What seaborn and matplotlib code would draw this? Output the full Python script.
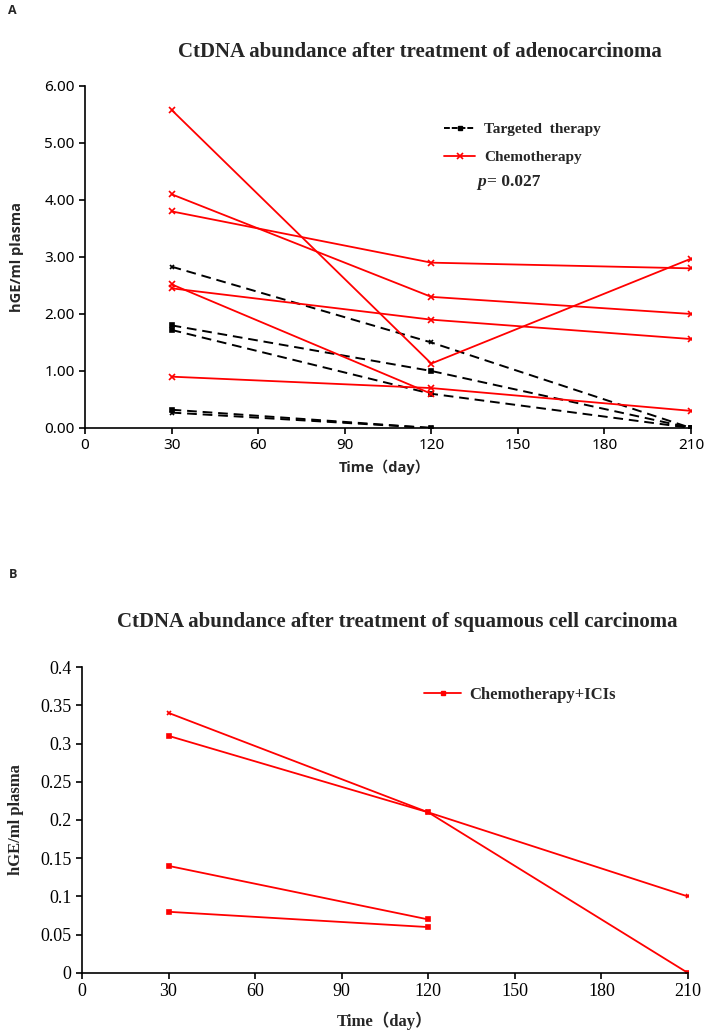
import matplotlib
matplotlib.use("Agg")
import matplotlib.pyplot as plt
from matplotlib.lines import Line2D
import seaborn as sns
import pandas as pd

sns.set_style("ticks")
plt.rcParams['font.family'] = ['DejaVu Sans']

# --- data ---
days = [30, 120, 210]

# A: adenocarcinoma (hGE/ml plasma), None = no sample
targeted = [
    [2.83, 1.50, 0.00],
    [1.80, 1.00, 0.00],
    [1.72, 0.60, 0.00],
    [0.32, 0.00, None],
    [0.27, 0.00, None],
]
targeted_markers = ['x', 's', 's', 's', 'x']

chemo = [
    [5.58, 1.13, 2.97],
    [4.10, 2.30, 2.00],
    [3.80, 2.90, 2.80],
    [2.52, 0.60, None],
    [2.45, 1.90, 1.56],
    [0.90, 0.70, 0.30],
]

# B: squamous cell carcinoma
chemo_ici = [
    [0.34, 0.21, 0.10],
    [0.31, 0.21, 0.00],
    [0.14, 0.07, None],
    [0.08, 0.06, None],
]
chemo_ici_markers = ['x', 's', 's', 's']

x_ticks = [0, 30, 60, 90, 120, 150, 180, 210]
yA_ticks = [0, 1, 2, 3, 4, 5, 6]
yB_ticks = [0, 0.05, 0.1, 0.15, 0.2, 0.25, 0.3, 0.35, 0.4]


def to_long(series):
    rows = []
    for i, vals in enumerate(series):
        for d, v in zip(days, vals):
            if v is not None:
                rows.append({"id": i, "day": d, "value": v})
    return pd.DataFrame(rows)


df_t = to_long(targeted)
df_c = to_long(chemo)
df_b = to_long(chemo_ici)

SERIF = ['Liberation Serif', 'Noto Sans CJK SC']
SANS = ['Noto Sans', 'Noto Sans CJK SC']
SANS_B = ['Open Sans', 'Noto Sans CJK SC']
RED = '#ff0000'

fig = plt.figure(figsize=(7.06, 10.33), dpi=100)


def style_axis(ax, fam, size):
    sns.despine(ax=ax)
    for s in ['left', 'bottom']:
        ax.spines[s].set_linewidth(1.2)
        ax.spines[s].set_color('black')
    ax.tick_params(direction='out', length=4, width=1.2, colors='black',
                   labelsize=size, labelfontfamily=fam)
    ax.set_xlabel('')
    ax.set_ylabel('')
    ax.grid(False)


# ---------------- Panel A ----------------
axA = fig.add_axes([0.1204, 0.5857, 0.8584, 0.3311])
for i in range(len(targeted)):
    sns.lineplot(data=df_t[df_t.id == i], x='day', y='value', ax=axA,
                 color='black', lw=1.4, linestyle=(0, (5, 3)),
                 marker=targeted_markers[i], markersize=3.5, mew=1.2,
                 mec='black', estimator=None, sort=False)
for i in range(len(chemo)):
    sns.lineplot(data=df_c[df_c.id == i], x='day', y='value', ax=axA,
                 color=RED, lw=1.3, marker='x', markersize=4, mew=1.2,
                 mec=RED, estimator=None, sort=False)

axA.set_xlim(0, 210)
axA.set_ylim(0, 6)
axA.set_xticks(x_ticks)
axA.set_yticks(yA_ticks)
axA.set_yticklabels([f"{v:.2f}" for v in yA_ticks])
style_axis(axA, SANS, 11)

hA = [Line2D([], [], color='black', lw=1.4, linestyle=(0, (3, 1)), marker='s', markersize=3.5),
      Line2D([], [], color=RED, lw=1.3, marker='x', markersize=4, mew=1.2)]
axA.legend(hA, ['Targeted  therapy', 'Chemotherapy'], loc='center left',
           bbox_to_anchor=(0.61, 1 - 143.5 / 1033), bbox_transform=fig.transFigure,
           frameon=False, handlelength=2.0, handletextpad=0.6,
           labelspacing=0.95, prop={'family': SERIF, 'weight': 'bold', 'size': 11})

fig.text(0.595, 0.9497, 'CtDNA abundance after treatment of adenocarcinoma',
         ha='center', va='center', fontsize=15, fontweight='bold', family=SERIF)
fig.text(0.676, 1 - 182 / 1033, 'p', ha='left', va='center',
         fontsize=12.5, fontweight='bold', style='italic', family=SERIF)
fig.text(0.690, 1 - 182 / 1033, '= 0.027', ha='left', va='center',
         fontsize=12.5, fontweight='bold', family=SERIF)
fig.text(0.545, 1 - 467 / 1033, 'Time（day）', ha='center', va='center',
         fontsize=10.5, fontweight='bold', family=SANS_B)
fig.text(0.024, 1 - 257 / 1033, 'hGE/ml plasma', ha='center', va='center',
         rotation=90, fontsize=10.5, fontweight='bold', family=SANS_B)
fig.text(0.012, 1 - 10 / 1033, 'A', ha='left', va='center',
         fontsize=9, fontweight='bold', family=SANS_B)

# ---------------- Panel B ----------------
axB = fig.add_axes([0.1161, 0.0581, 0.8584, 0.2962])
for i in range(len(chemo_ici)):
    sns.lineplot(data=df_b[df_b.id == i], x='day', y='value', ax=axB,
                 color=RED, lw=1.3, marker=chemo_ici_markers[i], markersize=3.5,
                 mew=1.2, mec=RED, estimator=None, sort=False)

axB.set_xlim(0, 210)
axB.set_ylim(0, 0.4)
axB.set_xticks(x_ticks)
axB.set_yticks(yB_ticks)
axB.set_yticklabels([f"{v:g}" for v in yB_ticks])
style_axis(axB, SERIF, 13)

hB = [Line2D([], [], color=RED, lw=1.3, marker='s', markersize=3.5)]
axB.legend(hB, ['Chemotherapy+ICIs'], loc='center left',
           bbox_to_anchor=(0.58, 1 - 695 / 1033), bbox_transform=fig.transFigure,
           frameon=False, handlelength=2.2, handletextpad=0.5,
           prop={'family': SERIF, 'weight': 'bold', 'size': 12})

fig.text(0.563, 1 - 622 / 1033, 'CtDNA abundance after treatment of squamous cell carcinoma',
         ha='center', va='center', fontsize=15, fontweight='bold', family=SERIF)
fig.text(0.545, 1 - 1021 / 1033, 'Time（day）', ha='center', va='center',
         fontsize=12, fontweight='bold', family=SERIF)
fig.text(0.022, 1 - 820 / 1033, 'hGE/ml plasma', ha='center', va='center',
         rotation=90, fontsize=12, fontweight='bold', family=SERIF)
fig.text(0.012, 1 - 575 / 1033, 'B', ha='left', va='center',
         fontsize=9, fontweight='bold', family=SANS_B)

fig.savefig('out.png', dpi=100)
